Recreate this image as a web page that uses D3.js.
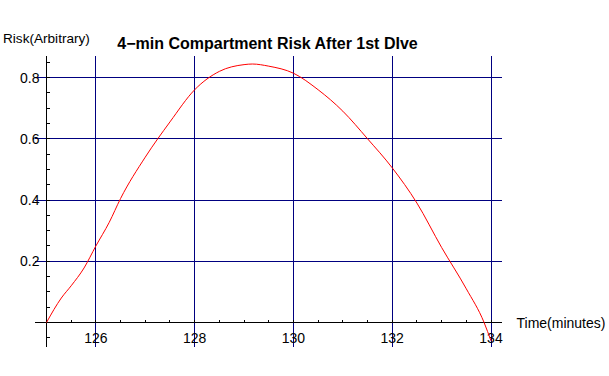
<!DOCTYPE html>
<html>
<head>
<meta charset="utf-8">
<script src="https://cdn.jsdelivr.net/npm/d3@7"></script>
<style>
  html, body { margin: 0; padding: 0; background: #fff; }
  svg { display: block; font-family: "Liberation Sans", Arial, sans-serif; }
</style>
</head>
<body>
<svg id="chart" width="609" height="376"></svg>
<script>
// ---- data ----
const times = [125, 125.3, 125.5, 125.76, 126, 126.27, 126.5, 127, 127.5, 128, 128.5, 129, 129.17, 129.5, 130, 130.5, 131, 131.5, 132, 132.5, 133, 133.5, 133.86, 134];
const risk  = [0, 0.08, 0.12, 0.178, 0.25, 0.327, 0.405, 0.54, 0.655, 0.76, 0.82, 0.842, 0.844, 0.837, 0.814, 0.76, 0.69, 0.60, 0.505, 0.39, 0.245, 0.11, 0, -0.06];
const xTicks = [126, 128, 130, 132, 134];
const yTicks = [0.2, 0.4, 0.6, 0.8];
const xMinorTicks = d3.range(125.5, 134.01, 0.5);
const yMinorTicks = d3.range(-0.05, 0.851, 0.05);
const xExtent = [124.77, 134.22];
const yExtent = [-0.08, 0.87];
const title = "4\u2212min Compartment Risk After 1st DIve";
const yLabel = "Risk(Arbitrary)";
const xLabel = "Time(minutes)";

// ---- scales ----
const svg = d3.select("#chart");
const x = d3.scaleLinear().domain([125, 134]).range([46.5, 491]);
const y = d3.scaleLinear().domain([0, 0.8]).range([322.5, 77.5]);
const navy = "#000080";

// gridlines
svg.append("g").selectAll("line.vg").data(xTicks).join("line")
  .attr("x1", d => x(d)).attr("x2", d => x(d))
  .attr("y1", y(yExtent[1])).attr("y2", y(yExtent[0]))
  .attr("stroke", navy).attr("stroke-width", 1).attr("shape-rendering", "crispEdges");
svg.append("g").selectAll("line.hg").data(yTicks).join("line")
  .attr("x1", x(xExtent[0])).attr("x2", x(xExtent[1]))
  .attr("y1", d => y(d)).attr("y2", d => y(d))
  .attr("stroke", navy).attr("stroke-width", 1).attr("shape-rendering", "crispEdges");

// axes lines
svg.append("line")
  .attr("x1", x(xExtent[0])).attr("x2", x(xExtent[1]))
  .attr("y1", y(0)).attr("y2", y(0))
  .attr("stroke", "#000").attr("shape-rendering", "crispEdges");
svg.append("line")
  .attr("x1", x(125)).attr("x2", x(125))
  .attr("y1", y(yExtent[1])).attr("y2", y(yExtent[0]))
  .attr("stroke", "#000").attr("shape-rendering", "crispEdges");

// minor ticks
svg.append("g").selectAll("line").data(xMinorTicks).join("line")
  .attr("x1", d => x(d)).attr("x2", d => x(d))
  .attr("y1", y(0)).attr("y2", y(0) - 3)
  .attr("stroke", "#000").attr("shape-rendering", "crispEdges");
svg.append("g").selectAll("line").data(yMinorTicks).join("line")
  .attr("x1", x(125)).attr("x2", x(125) + 3)
  .attr("y1", d => y(d)).attr("y2", d => y(d))
  .attr("stroke", "#000").attr("shape-rendering", "crispEdges");

// tick labels
svg.append("g").selectAll("text").data(xTicks).join("text")
  .attr("x", d => x(d)).attr("y", 342.5)
  .attr("text-anchor", "middle").attr("font-size", 14).attr("fill", "#000")
  .text(d => d);
svg.append("g").selectAll("text").data(yTicks).join("text")
  .attr("x", 39.5).attr("y", d => y(d) + 5)
  .attr("text-anchor", "end").attr("font-size", 14).attr("fill", "#000")
  .text(d => d.toFixed(1));

// curve
const line = d3.line()
  .x((d, i) => x(times[i]))
  .y(d => y(d))
  .curve(d3.curveMonotoneX);
svg.append("path")
  .datum(risk)
  .attr("d", line)
  .attr("fill", "none").attr("stroke", "#ff0000").attr("stroke-width", 1);

// labels
svg.append("text").attr("x", 267.5).attr("y", 48.5)
  .attr("text-anchor", "middle").attr("font-size", 16).attr("font-weight", "bold")
  .text(title);
svg.append("text").attr("x", 3).attr("y", 43)
  .attr("font-size", 13.6).text(yLabel);
svg.append("text").attr("x", 516.5).attr("y", 327.5)
  .attr("font-size", 14).text(xLabel);
</script>
</body>
</html>
